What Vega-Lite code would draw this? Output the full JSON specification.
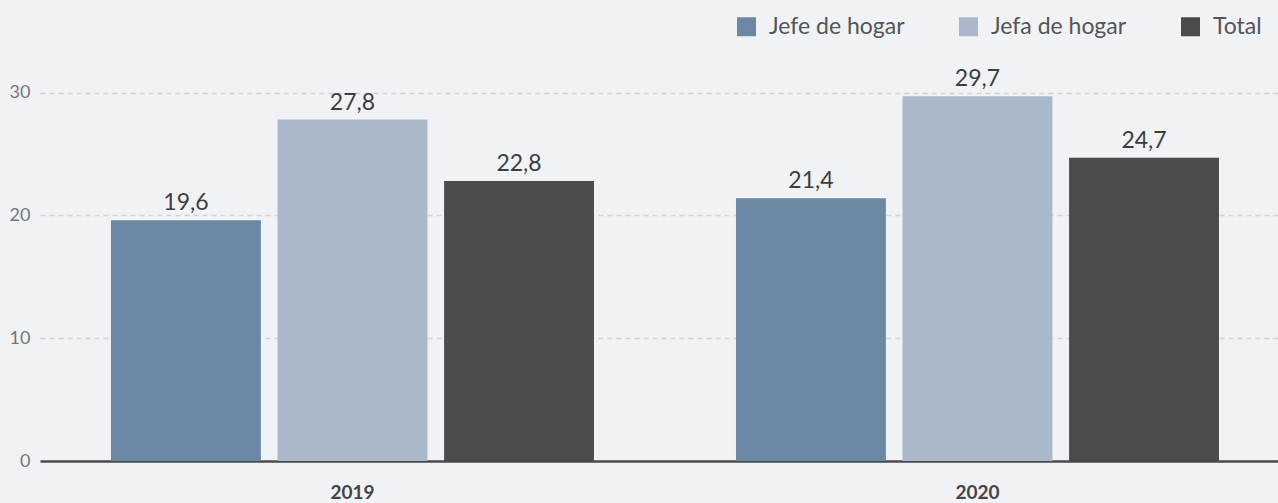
{
  "$schema": "https://vega.github.io/schema/vega-lite/v6.json",
  "autosize": {"type": "none"},
  "width": 1238,
  "height": 393,
  "padding": {"left": 40, "top": 68, "right": 0, "bottom": 42},
  "background": "#f1f2f6",
  "config": {
    "view": {"stroke": null},
    "font": "Lato"
  },
  "data": {
    "values": [
      {"year": "2019", "grupo": "Jefe de hogar", "valor": 19.6, "etiqueta": "19,6"},
      {"year": "2019", "grupo": "Jefa de hogar", "valor": 27.8, "etiqueta": "27,8"},
      {"year": "2019", "grupo": "Total", "valor": 22.8, "etiqueta": "22,8"},
      {"year": "2020", "grupo": "Jefe de hogar", "valor": 21.4, "etiqueta": "21,4"},
      {"year": "2020", "grupo": "Jefa de hogar", "valor": 29.7, "etiqueta": "29,7"},
      {"year": "2020", "grupo": "Total", "valor": 24.7, "etiqueta": "24,7"}
    ]
  },
  "encoding": {
    "x": {
      "field": "year",
      "type": "nominal",
      "title": null,
      "scale": {"paddingInner": 0.2272, "paddingOuter": 0.104, "align": 0.546},
      "axis": {
        "labelAngle": 0,
        "ticks": false,
        "domain": true,
        "domainColor": "#4a4b4d",
        "domainWidth": 2.5,
        "labelFont": "Lato",
        "labelFontWeight": "bold",
        "labelFontSize": 19,
        "labelColor": "#444444",
        "labelBaseline": "alphabetic",
        "labelPadding": 37,
        "grid": false
      }
    },
    "xOffset": {
      "field": "grupo",
      "type": "nominal",
      "sort": ["Jefe de hogar", "Jefa de hogar", "Total"],
      "scale": {"paddingInner": 0.1, "paddingOuter": 0}
    },
    "y": {
      "field": "valor",
      "type": "quantitative",
      "title": null,
      "scale": {"domain": [0, 32], "nice": false},
      "axis": {
        "values": [0, 10, 20, 30],
        "domain": false,
        "ticks": false,
        "labelPadding": 10,
        "labelFont": "Lato",
        "labelFontSize": 18,
        "labelColor": "#777777",
        "grid": true,
        "gridColor": "#d2d3d7",
        "gridDash": [5, 4],
        "gridWidth": 1.5
      }
    }
  },
  "layer": [
    {
      "mark": {"type": "bar"},
      "encoding": {
        "color": {
          "field": "grupo",
          "type": "nominal",
          "sort": ["Jefe de hogar", "Jefa de hogar", "Total"],
          "scale": {"domain": ["Jefe de hogar", "Jefa de hogar", "Total"], "range": ["#6b87a3", "#abb8ca", "#4a4b4d"]},
          "legend": {
            "title": null,
            "orient": "none",
            "direction": "horizontal",
            "legendX": 695,
            "legendY": -53,
            "padding": 0,
            "symbolType": "square",
            "symbolSize": 361,
            "symbolStrokeWidth": 0,
            "symbolOpacity": 1,
            "labelFont": "Lato",
            "labelFontSize": 23,
            "labelColor": "#555555",
            "labelOffset": 11,
            "columnPadding": 52,
            "gridAlign": "all"
          }
        }
      }
    },
    {
      "mark": {"type": "text", "baseline": "alphabetic", "dy": -10, "fontSize": 23, "color": "#3d3d3d", "font": "Lato"},
      "encoding": {
        "text": {"field": "etiqueta", "type": "nominal"}
      }
    }
  ]
}
